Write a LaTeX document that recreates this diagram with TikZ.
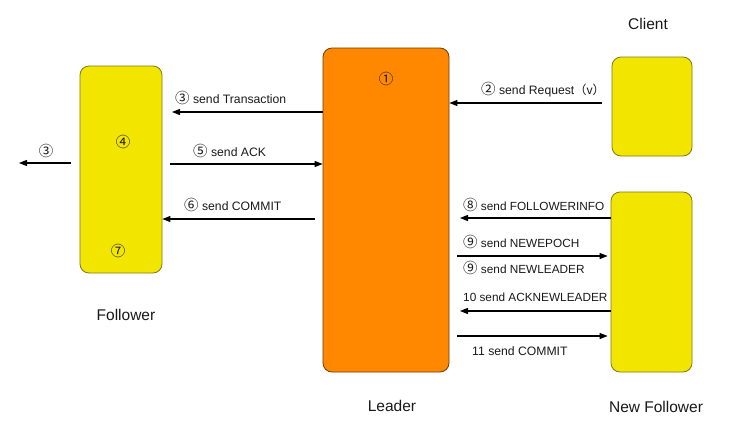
\documentclass[tikz,border=0pt]{standalone}
\usepackage{fontspec}
\setmainfont{Liberation Sans}
\newfontfamily\cjkf{Noto Sans CJK JP}
\usetikzlibrary{arrows.meta}
\newcommand\cd[1]{{\cjkf\fontsize{14.5}{15}\selectfont #1}}
\newcommand\cp[1]{{\cjkf #1}}
\definecolor{leaderorange}{RGB}{255,136,0}
\definecolor{leaderedge}{RGB}{110,60,10}
\definecolor{boxyellow}{RGB}{242,230,0}
\definecolor{yellowedge}{RGB}{130,120,20}
\definecolor{txt}{RGB}{25,25,25}
\begin{document}
\begin{tikzpicture}[x=1pt,y=-1pt,
  box/.style={draw, rounded corners=9pt, line width=0.8pt, inner sep=0pt},
  ybox/.style={box, fill=boxyellow, draw=yellowedge},
  obox/.style={box, fill=leaderorange, draw=leaderedge},
  arr/.style={-{Triangle[length=8pt,width=6pt]}, line width=1.1pt, black},
  lbl/.style={anchor=west, inner sep=0pt, text height=9pt, text depth=0pt, text=txt, font=\fontsize{12.2}{15}\selectfont},
  caplbl/.style={lbl, font=\fontsize{11.8}{15}\selectfont},
  clbl/.style={lbl, anchor=center},
  title/.style={inner sep=0pt, text=txt, font=\fontsize{15.5}{18}\selectfont}]
\useasboundingbox (0,0) rectangle (749,434);
% boxes
\node[ybox, minimum width=82pt, minimum height=207pt] (follower) at (121,169.5) {};
\node[obox, minimum width=126pt, minimum height=324pt] (leader) at (386,210) {};
\node[ybox, minimum width=80pt, minimum height=99pt] (client) at (652,106.5) {};
\node[ybox, minimum width=81pt, minimum height=180pt] (newf) at (651.5,282) {};
% titles
\node[title] (tclient) at (648,24) {Client};
\node[title] (tfollower) at (126,315) {Follower};
\node[title] (tleader) at (392,406) {Leader};
\node[title] (tnewf) at (656,407) {New Follower};
% inner marks
\node[clbl] (m1) at (386,80) {\cd{①}};
\node[clbl] (m4) at (123,143) {\cd{④}};
\node[clbl] (m7) at (118,252) {\cd{⑦}};
% coordinates for free ends
\coordinate (a3) at (172,112);
\coordinate (a3l) at (19,163);
\coordinate (a3s) at (71,163);
\coordinate (a5s) at (170,164);
\coordinate (a6s) at (315,219);
\coordinate (a2s) at (602,103);
\coordinate (a8e) at (460,218);
\coordinate (a9s) at (457,256);
\coordinate (a10e) at (460,311);
\coordinate (a11s) at (457,336);
% connectors
\draw[arr] (leader.west |- a3) -- (a3);
\draw[arr] (a3s) -- (a3l);
\draw[arr] (a5s) -- (leader.west |- a5s);
\draw[arr] (a6s) -- (follower.east |- a6s);
\draw[arr] (a2s) -- (leader.east |- a2s);
\draw[arr] (newf.west |- a8e) -- (a8e);
\draw[arr] (a9s) -- ([xshift=-3pt]newf.west |- a9s);
\draw[arr] (newf.west |- a10e) -- (a10e);
\draw[arr] (a11s) -- ([xshift=-3pt]newf.west |- a11s);
% labels
\node[lbl] (l3) at (175,99) {\cd{③} send Transaction};
\node[clbl] (l3b) at (46,152) {\cd{③}};
\node[lbl] (l5) at (193,152) {\cd{⑤} send ACK};
\node[lbl] (l6) at (184,206) {\cd{⑥} send COMMIT};
\node[lbl] (l2) at (481,90) {\cd{②} send Request\cp{（}v\cp{）}};
\node[caplbl] (l8) at (463,206) {\cd{⑧} send FOLLOWERINFO};
\node[caplbl] (l9a) at (463,243) {\cd{⑨} send NEWEPOCH};
\node[caplbl] (l9b) at (463,269) {\cd{⑨} send NEWLEADER};
\node[caplbl] (l10) at (463,297) {10 send ACKNEWLEADER};
\node[lbl] (l11) at (472,351) {11 send COMMIT};
\end{tikzpicture}
\end{document}
